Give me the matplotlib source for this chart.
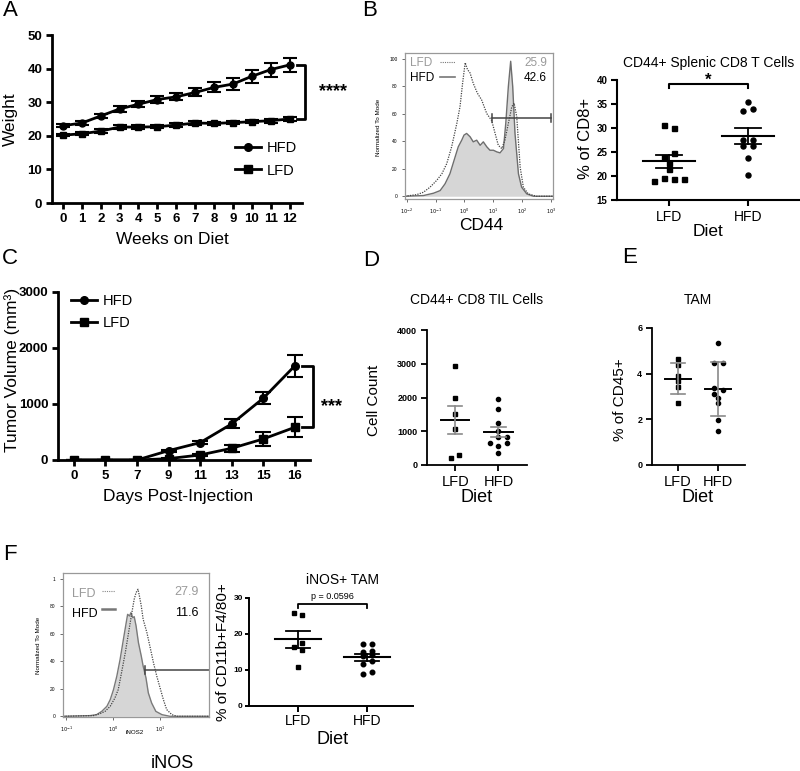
import matplotlib
matplotlib.use('Agg')
import matplotlib.pyplot as plt
from matplotlib.lines import Line2D
import numpy as np

plt.rcParams['font.family'] = ['Liberation Sans', 'DejaVu Sans']

W, H = 800, 771

# ---------------- data ----------------
# A: body weight
weeks = list(range(13))
hfd_weight = [23.0, 23.8, 25.9, 28.0, 29.4, 30.8, 31.6, 32.9, 34.4, 35.4, 37.7, 39.7, 41.1]
hfd_weight_err = [0.5, 0.6, 0.7, 0.8, 0.9, 0.9, 1.0, 1.2, 1.5, 1.7, 1.9, 2.1, 2.2]
lfd_weight = [20.2, 20.6, 21.4, 22.6, 22.6, 22.7, 23.2, 23.8, 23.7, 23.9, 24.2, 24.5, 25.0]
lfd_weight_err = [0.4, 0.4, 0.5, 0.5, 0.5, 0.5, 0.5, 0.5, 0.5, 0.5, 0.5, 0.6, 0.6]

# C: tumor volume
days = ['0', '5', '7', '9', '11', '13', '15', '16']
hfd_tumor = [0, 0, 0, 167, 310, 644, 1103, 1682]
hfd_tumor_err = [0, 0, 0, 20, 30, 80, 110, 195]
lfd_tumor = [0, 0, 0, 24, 90, 209, 376, 584]
lfd_tumor_err = [0, 0, 0, 10, 20, 60, 130, 180]

# B: CD44 histogram (log10 intensity, % of max)
cd44_lfd_log = [-2.06, -1.65, -1.42, -1.19, -0.96, -0.78, -0.61, -0.44, -0.26, -0.15, -0.06, 0.03,
                0.11, 0.20, 0.31, 0.45, 0.60, 0.78, 0.95, 1.07, 1.18, 1.30, 1.41, 1.53, 1.65, 1.73,
                1.82, 1.94, 2.05, 2.22, 2.51, 3.08]
cd44_lfd_val = [0, 1.2, 2.9, 6.6, 11.5, 16.3, 23.7, 35.9, 52.9, 65, 82, 97,
                92, 89.5, 82, 75, 70, 60, 55, 45.6, 37, 34.6, 40.7, 53, 65, 67.6,
                57.8, 21, 6.6, 1.7, 0, 0]
cd44_hfd_log = [-2.06, -1.42, -1.07, -0.84, -0.67, -0.50, -0.32, -0.21, -0.09, -0.01, 0.08, 0.20,
                0.31, 0.43, 0.55, 0.66, 0.78, 0.89, 1.01, 1.13, 1.24, 1.36, 1.44, 1.53, 1.61, 1.68,
                1.76, 1.88, 1.99, 2.17, 2.40, 3.08]
cd44_hfd_val = [0, 0.5, 2.2, 4.1, 9, 16.3, 28.5, 35.9, 40.7, 44.4, 45.6, 43.2,
                39.5, 40.7, 37, 39.5, 35.9, 33.4, 33.4, 32.2, 31.5, 34.6, 53, 79.8, 98, 79.8,
                45.6, 16.3, 6.6, 1.7, 0, 0]

# B: CD44+ splenic CD8 T cells
b_lfd = [30.6, 29.9, 24.7, 23.9, 22.8, 21.4, 19.0, 19.5, 19.4, 19.4]
b_hfd = [35.4, 33.6, 33.9, 27.5, 27.5, 26.3, 26.3, 23.8, 20.3]
b_lfd_jit = [-0.07, 0.06, 0.06, -0.07, 0, 0, -0.19, -0.07, 0.06, 0.19]
b_hfd_jit = [0, -0.06, 0.06, -0.06, 0.06, -0.06, 0.06, 0, 0]

# D: CD44+ CD8 TIL cells
d_lfd = [2940, 1980, 1510, 1080, 220, 300]
d_hfd = [1960, 1670, 1250, 1010, 830, 840, 660, 640, 570, 350]
d_lfd_jit = [0, 0, 0, 0, -0.1, 0.1]
d_hfd_jit = [0, 0, 0, 0, 0, 0.2, -0.2, 0.2, 0, 0]

# E: TAM
e_lfd = [4.64, 4.36, 3.91, 3.66, 3.41, 2.71]
e_hfd = [5.34, 4.47, 4.47, 3.37, 3.29, 3.12, 2.93, 2.71, 1.98, 1.51]
e_lfd_jit = [0, 0, 0, 0, 0, 0]
e_hfd_jit = [0, -0.1, 0.12, -0.1, 0.12, -0.1, 0, 0, 0, 0]

# F: iNOS histogram
inos_hfd_log = [-1.064, -0.49, -0.35, -0.24, -0.13, -0.06, 0.01, 0.08, 0.15, 0.22, 0.28, 0.31, 0.35,
                0.38, 0.42, 0.45, 0.49, 0.54, 0.60, 0.64, 0.70, 0.75, 0.82, 0.91, 1.04, 1.21, 2.04]
inos_hfd_val = [0, 0.5, 1.2, 3.6, 7.3, 12.1, 19.4, 29.1, 41.3, 55.8, 68, 74, 72.8,
                75.2, 71.6, 72.3, 65.5, 53.4, 43.7, 36.4, 27.9, 17, 9.7, 3.6, 1.2, 0, 0]
inos_lfd_log = [-1.064, -0.42, -0.28, -0.17, -0.06, 0.04, 0.11, 0.18, 0.26, 0.33, 0.40, 0.45, 0.49,
                0.53, 0.56, 0.60, 0.64, 0.72, 0.79, 0.86, 0.93, 1.00, 1.07, 1.14, 1.25, 1.36, 2.04]
inos_lfd_val = [0, 0.5, 1.9, 3.6, 7.3, 13.3, 19.4, 31.6, 46.1, 60.7, 75.2, 85, 89.8,
                92.2, 87.4, 80.1, 70.4, 60.7, 49.8, 38.8, 29.1, 20.6, 12.1, 4.9, 1.2, 0, 0]

# F: iNOS+ TAM
f_lfd = [25.7, 25.4, 17.4, 16.3, 15.6, 10.7]
f_hfd = [17.2, 17.2, 15.1, 15.4, 13.9, 14.1, 11.6, 12.5, 9.0, 9.5]
f_lfd_jit = [-0.06, 0.06, 0.06, -0.06, 0.06, 0]
f_hfd_jit = [-0.06, 0.07, -0.06, 0.07, -0.06, 0.07, -0.06, 0.07, -0.06, 0.07]

groups = ['LFD', 'HFD']

# ---------------- helpers ----------------
fig = plt.figure(figsize=(W / 100, H / 100), dpi=100)


def add_ax(l, t, r, b):
    return fig.add_axes([l / W, 1 - b / H, (r - l) / W, (b - t) / H])


def ftext(x, y, s, **kw):
    fig.text(x / W, 1 - y / H, s, **kw)


def bold_ticks(ax, size):
    ax.tick_params(labelsize=size)
    for lbl in ax.get_xticklabels() + ax.get_yticklabels():
        lbl.set_fontweight('bold')


def open_axes(ax, lw, pad=3):
    ax.spines['top'].set_visible(False)
    ax.spines['right'].set_visible(False)
    ax.spines['left'].set_linewidth(lw)
    ax.spines['bottom'].set_linewidth(lw)
    ax.tick_params(width=lw, length=4, pad=pad)


def dot_panel(ax, lfd, hfd, lfd_jit, hfd_jit, ms, sd=False, err_color='k', lw=1.3):
    ax.plot(np.array(lfd_jit), lfd, 's', color='k', ms=ms)
    ax.plot(1 + np.array(hfd_jit), hfd, 'o', color='k', ms=ms)
    for i, vals in enumerate([lfd, hfd]):
        v = np.array(vals, dtype=float)
        m = v.mean()
        e = v.std(ddof=1)
        if not sd:
            e = e / np.sqrt(len(v))
        ax.plot([i - 0.33, i + 0.33], [m, m], color='k', lw=lw + 0.2)
        ax.plot([i - 0.17, i + 0.17], [m + e, m + e], color=err_color, lw=lw)
        ax.plot([i - 0.17, i + 0.17], [m - e, m - e], color=err_color, lw=lw)
        ax.plot([i, i], [m - e, m + e], color=err_color, lw=lw)
    ax.set_xticks([0, 1])
    ax.set_xticklabels(groups)


def line_legend(ax, anchor):
    handles = [Line2D([], [], color='k', lw=2, marker='o', ms=5.5),
               Line2D([], [], color='k', lw=2, marker='s', ms=5.5)]
    ax.legend(handles, ['HFD', 'LFD'], loc='upper left', bbox_to_anchor=anchor, frameon=False,
              fontsize=10.5, handlelength=1.8, handletextpad=0.4, labelspacing=0.6,
              borderpad=0, borderaxespad=0)


# ---------------- A ----------------
axA = add_ax(52, 35, 302, 203)
axA.errorbar(weeks, hfd_weight, yerr=hfd_weight_err, fmt='-o', color='k', ms=5, lw=2,
             capsize=5, elinewidth=1.5, capthick=1.5)
axA.errorbar(weeks, lfd_weight, yerr=lfd_weight_err, fmt='-s', color='k', ms=5, lw=2,
             capsize=5, elinewidth=1.5, capthick=1.5)
axA.set_xlim(-0.58, 12.66)
axA.set_ylim(0, 50)
axA.set_xticks(weeks)
axA.set_yticks([0, 10, 20, 30, 40, 50])
open_axes(axA, 2)
bold_ticks(axA, 9.5)
line_legend(axA, (0.73, 0.37))
axA.plot([12.4, 12.82, 12.82, 12.4], [41.1, 41.1, 25.0, 25.0], color='k', lw=2, clip_on=False)
axA.text(14.3, 33.2, '****', fontsize=13, fontweight='bold', ha='center', va='center')
ftext(10, 119, 'Weight', fontsize=12.5, rotation=90, ha='center', va='center')
ftext(172, 240, 'Weeks on Diet', fontsize=12.5, ha='center', va='center')

# ---------------- C ----------------
axC = add_ax(58, 292, 310, 460)
xc = np.arange(len(days))
axC.errorbar(xc, hfd_tumor, yerr=hfd_tumor_err, fmt='-o', color='k', ms=5.5, lw=2,
             capsize=6, elinewidth=1.5, capthick=1.5)
axC.errorbar(xc, lfd_tumor, yerr=lfd_tumor_err, fmt='-s', color='k', ms=5.5, lw=2,
             capsize=6, elinewidth=1.5, capthick=1.5)
axC.set_xlim(-0.5, 7.48)
axC.set_ylim(0, 3000)
axC.set_xticks(xc)
axC.set_xticklabels(days)
axC.set_yticks([0, 1000, 2000, 3000])
open_axes(axC, 2)
bold_ticks(axC, 9.5)
line_legend(axC, (0.05, 0.99))
axC.plot([7.22, 7.57, 7.57, 7.22], [1682, 1682, 584, 584], color='k', lw=2, clip_on=False)
axC.text(8.17, 946, '***', fontsize=13, fontweight='bold', ha='center', va='center')
ftext(12, 370, 'Tumor Volume (mm³)', fontsize=12.5, rotation=90, ha='center', va='center')
ftext(178, 496, 'Days Post-Injection', fontsize=12.5, ha='center', va='center')

# ---------------- B histogram ----------------
axBh = add_ax(405, 53, 553, 199)
axBh.fill_between(10 ** np.array(cd44_hfd_log), cd44_hfd_val, color='#d6d6d6', lw=0)
axBh.plot(10 ** np.array(cd44_hfd_log), cd44_hfd_val, color='#6e6e6e', lw=1.0)
axBh.plot(10 ** np.array(cd44_lfd_log), cd44_lfd_val, color='#444444', lw=0.9, ls=(0, (1, 1)))
axBh.set_xscale('log')
axBh.set_xlim(10 ** -2.06, 10 ** 3.08)
axBh.set_ylim(-2, 104)
axBh.set_xticks([1e-2, 1e-1, 1e0, 1e1, 1e2, 1e3])
axBh.set_xticklabels(['$10^{-2}$', '$10^{-1}$', '$10^{0}$', '$10^{1}$', '$10^{2}$', '$10^{3}$'])
axBh.xaxis.set_minor_locator(matplotlib.ticker.NullLocator())
axBh.set_yticks([0, 20, 40, 60, 80, 100])
axBh.tick_params(labelsize=3.5, length=2, width=0.6, color='#555555')
for s in axBh.spines.values():
    s.set_color('#999999')
    s.set_linewidth(0.9)
axBh.plot([10 ** 0.95, 10 ** 3.0], [57, 57], color='#444444', lw=1.1)
axBh.plot([10 ** 0.95, 10 ** 0.95], [54, 60], color='#444444', lw=1.1)
axBh.plot([10 ** 3.0, 10 ** 3.0], [54, 60], color='#444444', lw=1.1)
axBh.text(0.034, 0.93, 'LFD', transform=axBh.transAxes, fontsize=8.5, color='#9a9a9a', va='center')
axBh.text(0.034, 0.83, 'HFD', transform=axBh.transAxes, fontsize=8.5, color='k', va='center')
axBh.plot([0.236, 0.34], [0.937, 0.937], transform=axBh.transAxes, color='#777777', lw=0.8, ls=(0, (1, 1)))
axBh.plot([0.236, 0.34], [0.835, 0.835], transform=axBh.transAxes, color='#777777', lw=1.2)
axBh.text(0.96, 0.93, '25.9', transform=axBh.transAxes, fontsize=8.5, color='#9a9a9a', va='center', ha='right')
axBh.text(0.96, 0.83, '42.6', transform=axBh.transAxes, fontsize=8.5, color='k', va='center', ha='right')
ftext(379, 127, 'Normalized To Mode', fontsize=4.5, rotation=90, ha='center', va='center')
ftext(481, 225, 'CD44', fontsize=12.5, ha='center', va='center')

# ---------------- B scatter ----------------
axB = add_ax(617, 80, 800, 200)
dot_panel(axB, b_lfd, b_hfd, b_lfd_jit, b_hfd_jit, ms=3.6)
axB.set_xlim(-0.66, 1.66)
axB.set_ylim(15, 40)
axB.set_yticks([15, 20, 25, 30, 35, 40])
open_axes(axB, 1.5)
bold_ticks(axB, 7)
for lbl in axB.get_xticklabels():
    lbl.set_fontweight('normal')
    lbl.set_fontsize(10)
axB.plot([0, 0, 1, 1], [38.4, 39.2, 39.2, 38.4], color='k', lw=1.5, clip_on=False)
axB.text(0.5, 40.0, '*', fontsize=12, fontweight='bold', ha='center', va='center')
axB.set_title('CD44+ Splenic CD8 T Cells', fontsize=10, pad=9)
ftext(585, 138, '% of CD8+', fontsize=12, rotation=90, ha='center', va='center')
ftext(708, 232, 'Diet', fontsize=12.5, ha='center', va='center')

# ---------------- D ----------------
axD = add_ax(427, 330, 527, 465)
dot_panel(axD, d_lfd, d_hfd, d_lfd_jit, d_hfd_jit, ms=3, err_color='#8a8a8a', lw=1.2)
axD.set_xlim(-0.65, 1.66)
axD.set_ylim(0, 4000)
axD.set_yticks([0, 1000, 2000, 3000, 4000])
open_axes(axD, 1.3)
bold_ticks(axD, 6.5)
for lbl in axD.get_xticklabels():
    lbl.set_fontweight('normal')
    lbl.set_fontsize(10.5)
ftext(477, 300, 'CD44+ CD8 TIL Cells', fontsize=10, ha='center', va='center')
ftext(374, 400, 'Cell Count', fontsize=11, rotation=90, ha='center', va='center')
ftext(477, 498, 'Diet', fontsize=13, ha='center', va='center')

# ---------------- E ----------------
axE = add_ax(652, 328, 745, 465)
dot_panel(axE, e_lfd, e_hfd, e_lfd_jit, e_hfd_jit, ms=3, sd=True, err_color='#8a8a8a', lw=1.2)
axE.set_xlim(-0.65, 1.67)
axE.set_ylim(0, 6)
axE.set_yticks([0, 2, 4, 6])
open_axes(axE, 1.3)
bold_ticks(axE, 6.5)
for lbl in axE.get_xticklabels():
    lbl.set_fontweight('normal')
    lbl.set_fontsize(10.5)
ftext(698, 300, 'TAM', fontsize=10, ha='center', va='center')
ftext(620, 400, '% of CD45+', fontsize=11, rotation=90, ha='center', va='center')
ftext(698, 498, 'Diet', fontsize=13, ha='center', va='center')

# ---------------- F histogram ----------------
axFh = add_ax(63, 573, 209, 717)
axFh.fill_between(10 ** np.array(inos_hfd_log), inos_hfd_val, color='#d6d6d6', lw=0)
axFh.plot(10 ** np.array(inos_hfd_log), inos_hfd_val, color='#7a7a7a', lw=1.0)
axFh.plot(10 ** np.array(inos_lfd_log), inos_lfd_val, color='#444444', lw=0.9, ls=(0, (1, 1)))
axFh.set_xscale('log')
axFh.set_xlim(10 ** -1.064, 10 ** 2.04)
axFh.set_ylim(-0.5, 104)
axFh.set_xticks([1e-1, 1e0, 1e1])
axFh.set_xticklabels(['$10^{-1}$', '$10^{0}$', '$10^{1}$'])
axFh.xaxis.set_minor_locator(matplotlib.ticker.NullLocator())
axFh.set_yticks([0, 20, 40, 60, 80, 100])
axFh.set_yticklabels(['0', '20', '40', '60', '80', '1'])
axFh.tick_params(labelsize=3.5, length=2, width=0.6, color='#555555')
for s in axFh.spines.values():
    s.set_color('#999999')
    s.set_linewidth(0.9)
axFh.plot([10 ** 0.67, 10 ** 2.04], [33.5, 33.5], color='#444444', lw=1.1, clip_on=False)
axFh.plot([10 ** 0.67, 10 ** 0.67], [30.5, 36.5], color='#444444', lw=1.1)
axFh.text(0.062, 0.854, 'LFD', transform=axFh.transAxes, fontsize=9, color='#9a9a9a', va='center')
axFh.text(0.062, 0.715, 'HFD', transform=axFh.transAxes, fontsize=9, color='k', va='center')
axFh.plot([0.267, 0.356], [0.875, 0.875], transform=axFh.transAxes, color='#888888', lw=0.8, ls=(0, (1, 1)))
axFh.plot([0.267, 0.356], [0.75, 0.75], transform=axFh.transAxes, color='#777777', lw=1.8)
axFh.text(0.93, 0.868, '27.9', transform=axFh.transAxes, fontsize=9, color='#9a9a9a', va='center', ha='right')
axFh.text(0.93, 0.722, '11.6', transform=axFh.transAxes, fontsize=9, color='k', va='center', ha='right')
ftext(38, 645, 'Normalized To Mode', fontsize=4.5, rotation=90, ha='center', va='center')
ftext(135, 733, 'iNOS2', fontsize=4.5, ha='center', va='center')
ftext(172, 763, 'iNOS', fontsize=13, ha='center', va='center')

# ---------------- F scatter ----------------
axF = add_ax(249, 598, 413, 706)
dot_panel(axF, f_lfd, f_hfd, f_lfd_jit, f_hfd_jit, ms=3.3)
axF.set_xlim(-0.71, 1.67)
axF.set_ylim(0, 30)
axF.set_yticks([0, 10, 20, 30])
open_axes(axF, 1.4, pad=1.5)
axF.tick_params(axis='y', length=3)
bold_ticks(axF, 6)
for lbl in axF.get_xticklabels():
    lbl.set_fontweight('normal')
    lbl.set_fontsize(10)
axF.plot([0, 0, 1, 1], [27.2, 28.4, 28.4, 27.2], color='k', lw=1.3, clip_on=False)
axF.text(0.5, 30.3, 'p = 0.0596', fontsize=6.5, ha='center', va='center')
ftext(343, 580, 'iNOS+ TAM', fontsize=10, ha='center', va='center')
ftext(223, 652, '% of CD11b+F4/80+', fontsize=11, rotation=90, ha='center', va='center')
ftext(333, 740, 'Diet', fontsize=13, ha='center', va='center')

# ---------------- panel letters ----------------
for letter, x, y in [('A', 10, 11), ('B', 370, 10), ('C', 10, 259), ('D', 371, 260),
                     ('E', 630, 258), ('F', 10, 555)]:
    ftext(x, y, letter, fontsize=16, ha='center', va='center')

fig.savefig('out.png', dpi=100)
